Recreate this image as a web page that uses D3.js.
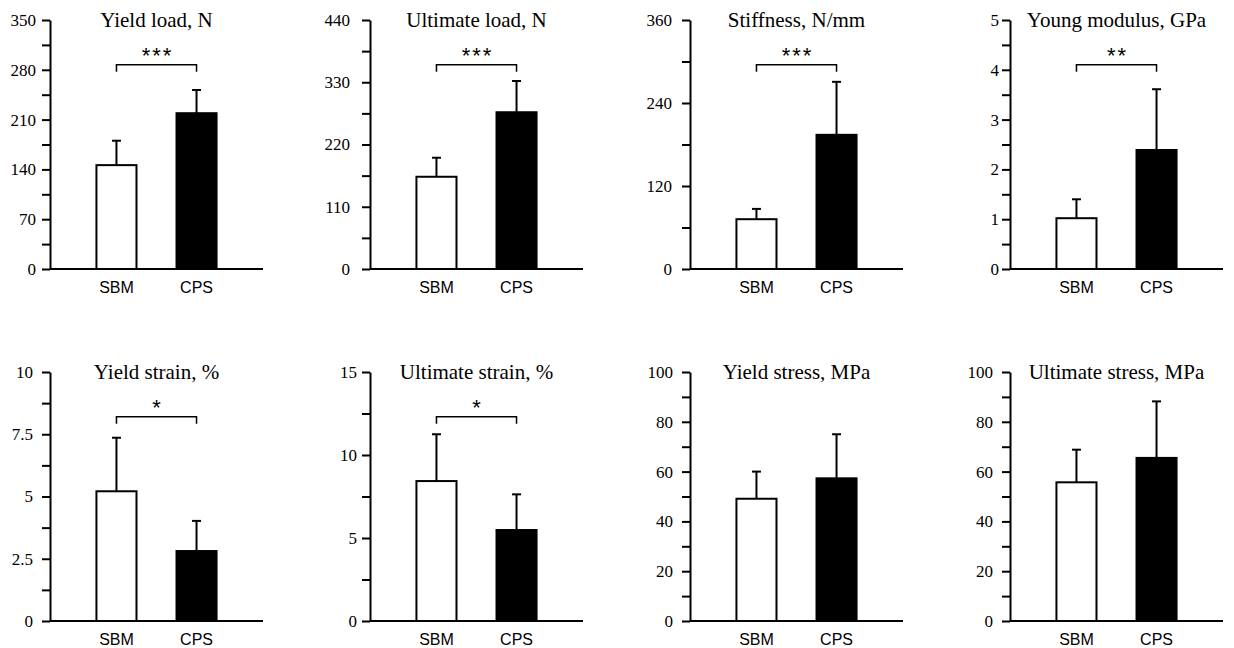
<!DOCTYPE html>
<html>
<head>
<meta charset="utf-8">
<script src="https://cdn.jsdelivr.net/npm/d3@7"></script>
<style>
  body { margin: 0; background: #fff; }
</style>
</head>
<body>
<div id="chart"></div>
<script>
(function() {

const width = 1234,
height = 648;

// data
const groups = ["SBM", "CPS"];
const titles = ["Yield load, N", "Ultimate load, N", "Stiffness, N/mm", "Young modulus, GPa",
  "Yield strain, %", "Ultimate strain, %", "Yield stress, MPa", "Ultimate stress, MPa"];
const yMax = [350, 440, 360, 5, 10, 15, 100, 100];
const yStep = [70, 110, 120, 1, 2.5, 5, 20, 20];
const sbmMean = [146, 163, 72, 1.02, 5.21, 8.43, 49.1, 55.7];
const sbmSd = [34.3, 33.6, 14.9, 0.38, 2.15, 2.82, 10.9, 13.1];
const cpsMean = [219, 277, 194, 2.39, 2.81, 5.48, 57.3, 65.5];
const cpsSd = [32.6, 55.2, 76.6, 1.22, 1.21, 2.15, 17.7, 22.7];
const stars = ["***", "***", "***", "**", "*", "*", "", ""];

// label gap to tick, per panel
const labelPad = [6, 12, 10, 3, 9, 5, 9, 9];

const pw = 213, ph = 249;

const svg = d3.select("#chart")
  .append("svg")
  .attr("width", width)
  .attr("height", height);

titles.forEach((title, i) => {
  const col = i % 4, row = Math.floor(i / 4);
  const g = svg.append("g")
    .attr("transform", `translate(${50 + 320 * col},${20 + 352 * row})`);

  const x = d3.scaleBand()
    .domain(groups)
    .range([0, pw])
    .paddingInner(0.5)
    .paddingOuter(0.58);

  const y = d3.scaleLinear()
    .domain([0, yMax[i]])
    .range([ph, 0]);

  // major + minor ticks, labels only on major
  const tv = d3.range(0, yMax[i] + 1e-9, yStep[i] / 2);
  const yAxis = d3.axisLeft(y)
    .tickValues(tv)
    .tickSize(8)
    .tickSizeOuter(0)
    .tickPadding(labelPad[i])
    .tickFormat((d, k) => k % 2 === 0 ? String(+d.toFixed(4)) : "");

  const ga = g.append("g").call(yAxis);
  ga.select(".domain").attr("stroke-width", 2);
  ga.selectAll(".tick line").attr("stroke-width", 2);
  ga.selectAll(".tick text")
    .attr("font-family", "Liberation Serif, Times New Roman, serif")
    .attr("font-size", 17)
    .attr("fill", "#000");

  g.append("line")
    .attr("x1", 0).attr("x2", pw)
    .attr("y1", ph).attr("y2", ph)
    .attr("stroke", "#000")
    .attr("stroke-width", 2);

  const rows = [
    { k: "SBM", m: sbmMean[i], s: sbmSd[i], fill: "#fff" },
    { k: "CPS", m: cpsMean[i], s: cpsSd[i], fill: "#000" }
  ];

  // error bars (upper only)
  g.selectAll(".err")
    .data(rows)
    .join("line")
    .attr("x1", d => x(d.k) + x.bandwidth() / 2)
    .attr("x2", d => x(d.k) + x.bandwidth() / 2)
    .attr("y1", d => y(d.m))
    .attr("y2", d => y(d.m + d.s))
    .attr("stroke", "#000")
    .attr("stroke-width", 2);

  g.selectAll(".cap")
    .data(rows)
    .join("line")
    .attr("x1", d => x(d.k) + x.bandwidth() / 2 - 4.5)
    .attr("x2", d => x(d.k) + x.bandwidth() / 2 + 4.5)
    .attr("y1", d => y(d.m + d.s))
    .attr("y2", d => y(d.m + d.s))
    .attr("stroke", "#000")
    .attr("stroke-width", 2);

  g.selectAll("rect")
    .data(rows)
    .join("rect")
    .attr("x", d => x(d.k))
    .attr("width", x.bandwidth())
    .attr("y", d => y(d.m))
    .attr("height", d => ph - y(d.m))
    .attr("fill", d => d.fill)
    .attr("stroke", "#000")
    .attr("stroke-width", 2);

  g.selectAll(".cat")
    .data(groups)
    .join("text")
    .attr("x", d => x(d) + x.bandwidth() / 2)
    .attr("y", ph + 24)
    .attr("text-anchor", "middle")
    .attr("font-family", "Liberation Sans, Arial, sans-serif")
    .attr("font-size", 16)
    .text(d => d);

  g.append("text")
    .attr("x", pw / 2)
    .attr("y", 7)
    .attr("text-anchor", "middle")
    .attr("font-family", "Liberation Serif, Times New Roman, serif")
    .attr("font-size", 21)
    .text(title);

  if (stars[i]) {
    const by = y(yMax[i] * 0.82);
    const x1 = x("SBM") + x.bandwidth() / 2,
      x2 = x("CPS") + x.bandwidth() / 2;
    g.append("path")
      .attr("d", `M${x1},${by + 7}V${by}H${x2}V${by + 7}`)
      .attr("fill", "none")
      .attr("stroke", "#000")
      .attr("stroke-width", 1.5);
    g.append("text")
      .attr("x", (x1 + x2) / 2 + 1)
      .attr("y", by - 2)
      .attr("text-anchor", "middle")
      .attr("font-family", "Liberation Sans, Arial, sans-serif")
      .attr("font-size", 22)
      .attr("letter-spacing", 2)
      .text(stars[i]);
  }
});

})();
</script>
</body>
</html>
